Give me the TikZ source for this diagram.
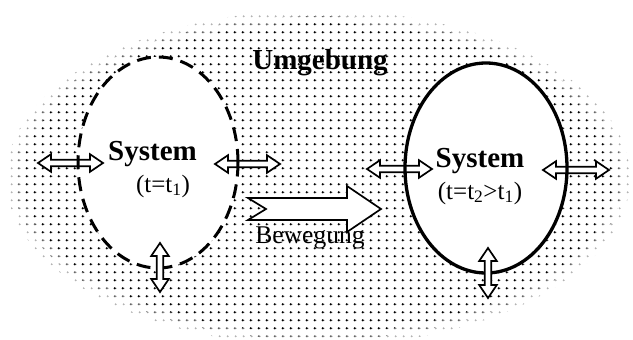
\documentclass[tikz,border=0pt]{standalone}
\usepackage{fontspec}
\setmainfont{Liberation Serif}
\usetikzlibrary{patterns}

% regular grid of small dots for the surroundings
\pgfdeclarepatternformonly{dotgrid}{\pgfpointorigin}{\pgfpoint{7.7pt}{7.7pt}}{\pgfpoint{7.7pt}{7.7pt}}{%
  \pgfpathcircle{\pgfpoint{3.85pt}{3.85pt}}{1.1pt}\pgfusepath{fill}}

\tikzset{
  arrowbody/.style={draw=black, fill=white, line width=1.7pt, line join=miter},
  pics/dblarr/.style={code={
    \pgfmathsetmacro\hl{#1/2}
    \pgfmathsetmacro\hb{#1/2-13}
    \draw[arrowbody] (-\hl,0) -- (-\hb,8.8) -- (-\hb,3.2) -- (\hb,3.2) -- (\hb,8.8)
      -- (\hl,0) -- (\hb,-8.8) -- (\hb,-3.2) -- (-\hb,-3.2) -- (-\hb,-8.8) -- cycle;
  }},
  boldlabel/.style={anchor=base, inner sep=0pt, font=\fontsize{29}{29}\selectfont\bfseries},
  plainlabel/.style={anchor=base, inner sep=0pt, font=\fontsize{25}{25}\selectfont},
  sysdashed/.style={line width=3pt, dash pattern=on 14pt off 8pt},
  syssolid/.style={line width=3.3pt},
}

\begin{document}
\begin{tikzpicture}[x=1pt, y=-1pt]
  \useasboundingbox (0,0) rectangle (633,340);
  \clip (0,0) rectangle (633,340);

  % surroundings: dotted oval, lighter towards its rim
  \fill[pattern=dotgrid, pattern color=black!30] (318,178) ellipse [x radius=312, y radius=168];
  \fill[pattern=dotgrid, pattern color=black!60] (318,178) ellipse [x radius=305, y radius=162];
  \fill[pattern=dotgrid, pattern color=black] (318,178) ellipse [x radius=296, y radius=155];

  % system interiors
  \fill[white] (158,162.5) ellipse [x radius=80, y radius=105.5];
  \fill[white] (486,168) ellipse [x radius=81, y radius=105];

  % exchange arrows across the sides of the boundaries
  \pic (la) at (70.5,163) {dblarr=65};
  \pic (lb) at (247.5,164) {dblarr=65};
  \pic (ra) at (399.5,169) {dblarr=65};
  \pic (rb) at (576,170) {dblarr=66};

  % system boundaries
  \draw[sysdashed] (158,162.5) ellipse [x radius=80, y radius=105.5];
  \draw[syssolid] (486,168) ellipse [x radius=81, y radius=105];

  % exchange arrows across the bottoms
  \pic[rotate=90] (lc) at (160,267.5) {dblarr=49};
  \pic[rotate=90] (rc) at (488,273) {dblarr=50};

  % motion arrow
  \draw[arrowbody] (248,198) -- (347,198) -- (347,186) -- (381,209) -- (347,232)
    -- (347,220) -- (248,220) -- (266,209) -- cycle;

  % labels
  \node[boldlabel] (umg) at (320,70) {Umgebung};
  \node[boldlabel] (sys1) at (152.5,160.7) {System};
  \node[plainlabel] (t1) at (163,192) {(t=t\textsubscript{1})};
  \node[boldlabel] (sys2) at (480,167) {System};
  \node[plainlabel] (t2) at (480,199) {(t=t\textsubscript{2}>t\textsubscript{1})};
  \node[plainlabel, font=\fontsize{25.5}{25.5}\selectfont] (bew) at (310,243) {Bewegung};
\end{tikzpicture}
\end{document}
